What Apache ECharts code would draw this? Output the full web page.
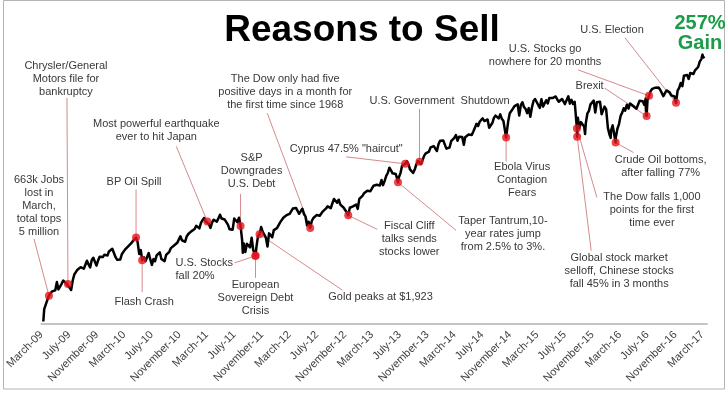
<!DOCTYPE html>
<html>
<head>
<meta charset="utf-8">
<script src="https://cdn.jsdelivr.net/npm/echarts@6/dist/echarts.min.js"></script>
<style>
  html, body { margin: 0; padding: 0; background: #fff; }
  #c { width: 728px; height: 393px; }
</style>
</head>
<body>
<div id="c"></div>
<script>
// ---------------- DATA ----------------
// Weekly-ish index closes (S&P 500 scale), by year: [MM-DD, value]
const y2009 = [['03-09',676],['03-13',756],['03-20',768],['03-27',816],['04-03',842],['04-09',857],['04-17',870],['04-24',866],['05-01',877],['05-08',930],['05-15',883],['05-22',887],['05-29',919],['06-05',940],['06-12',946],['06-19',921],['06-26',918],['07-02',896],['07-10',879],['07-17',940],['07-24',979],['07-31',987],['08-07',1010],['08-14',1004],['08-21',1026],['08-28',1029],['09-04',1016],['09-11',1042],['09-18',1068],['09-25',1044],['10-02',1025],['10-09',1071],['10-16',1087],['10-23',1079],['10-30',1036],['11-06',1069],['11-13',1093],['11-20',1091],['11-27',1091],['12-04',1106],['12-11',1106],['12-18',1102],['12-24',1127],['12-31',1115]];
const y2010 = [['01-08',1145],['01-15',1136],['01-22',1092],['01-29',1074],['02-05',1066],['02-12',1075],['02-19',1109],['02-26',1104],['03-05',1139],['03-12',1150],['03-19',1160],['03-26',1167],['04-01',1179],['04-09',1194],['04-16',1192],['04-23',1217],['04-30',1187],['05-07',1111],['05-14',1136],['05-20',1071],['05-28',1089],['06-04',1065],['06-11',1092],['06-18',1117],['06-25',1076],['07-02',1040],['07-09',1078],['07-16',1065],['07-23',1102],['07-30',1102],['08-06',1122],['08-13',1079],['08-20',1071],['08-27',1065],['09-03',1105],['09-10',1110],['09-17',1125],['09-24',1149],['10-01',1147],['10-08',1166],['10-15',1176],['10-22',1183],['10-29',1183],['11-05',1225],['11-12',1199],['11-19',1199],['11-26',1190],['12-03',1224],['12-10',1240],['12-17',1244],['12-23',1257],['12-31',1258]];
const y2011 = [['01-07',1272],['01-14',1293],['01-21',1283],['01-28',1276],['02-04',1311],['02-11',1329],['02-18',1343],['02-25',1320],['03-04',1321],['03-11',1304],['03-18',1279],['03-25',1313],['04-01',1332],['04-08',1329],['04-15',1320],['04-21',1337],['04-29',1364],['05-06',1340],['05-13',1338],['05-20',1333],['05-27',1331],['06-03',1300],['06-10',1271],['06-17',1271],['06-24',1268],['07-01',1340],['07-08',1344],['07-15',1316],['07-22',1345],['07-29',1292],['08-05',1199],['08-08',1119],['08-12',1179],['08-19',1124],['08-26',1177],['09-02',1174],['09-09',1154],['09-16',1216],['09-23',1136],['09-30',1131],['10-03',1099],['10-07',1155],['10-14',1225],['10-21',1238],['10-28',1285],['11-04',1253],['11-11',1264],['11-18',1216],['11-25',1159],['12-02',1244],['12-09',1255],['12-16',1219],['12-23',1265],['12-30',1258]];
const y2012 = [['01-06',1278],['01-13',1289],['01-20',1315],['01-27',1316],['02-03',1345],['02-10',1343],['02-17',1361],['02-24',1366],['03-02',1370],['03-09',1371],['03-16',1404],['03-23',1397],['03-30',1408],['04-05',1398],['04-13',1370],['04-20',1378],['04-27',1403],['05-04',1369],['05-11',1353],['05-18',1295],['05-25',1318],['06-01',1278],['06-08',1325],['06-15',1343],['06-22',1335],['06-29',1362],['07-06',1355],['07-13',1357],['07-20',1363],['07-27',1386],['08-03',1391],['08-10',1405],['08-17',1418],['08-24',1411],['08-31',1407],['09-07',1438],['09-14',1466],['09-21',1460],['09-28',1441],['10-05',1461],['10-12',1429],['10-19',1433],['10-26',1411],['11-02',1414],['11-09',1380],['11-16',1360],['11-23',1409],['11-30',1416],['12-07',1418],['12-14',1413],['12-21',1430],['12-28',1402]];
const y2013 = [['01-04',1466],['01-11',1472],['01-18',1486],['01-25',1503],['02-01',1513],['02-08',1518],['02-15',1520],['02-22',1516],['03-01',1518],['03-08',1551],['03-15',1561],['03-22',1557],['03-28',1569],['04-05',1553],['04-12',1588],['04-19',1555],['04-26',1582],['05-03',1614],['05-10',1633],['05-17',1667],['05-24',1650],['05-31',1631],['06-07',1643],['06-14',1626],['06-21',1593],['06-24',1573],['06-28',1606],['07-05',1632],['07-12',1680],['07-19',1692],['07-26',1692],['08-02',1710],['08-09',1691],['08-16',1656],['08-23',1664],['08-30',1633],['09-06',1655],['09-13',1688],['09-20',1710],['09-27',1705],['10-04',1691],['10-11',1703],['10-18',1745],['10-25',1760],['11-01',1762],['11-08',1771],['11-15',1798],['11-22',1805],['11-29',1806],['12-06',1805],['12-13',1775],['12-20',1818],['12-27',1841]];
const y2014 = [['01-03',1831],['01-10',1842],['01-17',1839],['01-24',1790],['01-31',1783],['02-07',1797],['02-14',1838],['02-21',1836],['02-28',1859],['03-07',1878],['03-14',1841],['03-21',1866],['03-28',1857],['04-04',1865],['04-11',1815],['04-17',1864],['04-25',1863],['05-02',1881],['05-09',1878],['05-16',1878],['05-23',1900],['05-30',1924],['06-06',1950],['06-13',1936],['06-20',1963],['06-27',1961],['07-03',1985],['07-11',1968],['07-18',1978],['07-25',1978],['08-01',1925],['08-08',1931],['08-15',1955],['08-22',1988],['08-29',2003],['09-05',2008],['09-12',1985],['09-19',2011],['09-26',1982],['10-03',1968],['10-10',1906],['10-15',1862],['10-17',1887],['10-24',1964],['10-31',2018],['11-07',2032],['11-14',2039],['11-21',2064],['11-28',2068],['12-05',2075],['12-12',2003],['12-19',2071],['12-26',2089]];
const y2015 = [['01-02',2058],['01-09',2045],['01-16',2019],['01-23',2051],['01-30',1995],['02-06',2055],['02-13',2097],['02-20',2110],['02-27',2104],['03-06',2071],['03-13',2053],['03-20',2108],['03-27',2061],['04-02',2067],['04-10',2102],['04-17',2081],['04-24',2117],['05-01',2108],['05-08',2116],['05-15',2123],['05-22',2126],['05-29',2107],['06-05',2092],['06-12',2094],['06-19',2110],['06-26',2102],['07-02',2077],['07-10',2077],['07-17',2127],['07-24',2080],['07-31',2104],['08-07',2078],['08-14',2092],['08-21',1971],['08-24',1920],['08-25',1867],['08-28',1989],['09-04',1921],['09-11',1961],['09-18',1958],['09-25',1932],['09-29',1884],['10-02',1951],['10-09',2015],['10-16',2033],['10-23',2075],['10-30',2079],['11-06',2099],['11-13',2023],['11-20',2089],['11-27',2090],['12-04',2092],['12-11',2012],['12-18',2006],['12-24',2061],['12-31',2044]];
const y2016 = [['01-08',1922],['01-15',1880],['01-20',1859],['01-22',1907],['01-29',1940],['02-05',1880],['02-11',1829],['02-12',1865],['02-19',1918],['02-26',1948],['03-04',2000],['03-11',2022],['03-18',2050],['03-24',2035],['04-01',2073],['04-08',2048],['04-15',2081],['04-22',2092],['04-29',2065],['05-06',2057],['05-13',2047],['05-20',2053],['05-27',2099],['06-03',2099],['06-10',2096],['06-17',2071],['06-23',2113],['06-24',2037],['06-27',2000],['07-01',2103],['07-08',2130],['07-15',2162],['07-22',2175],['07-29',2174],['08-05',2183],['08-12',2184],['08-19',2184],['08-26',2169],['09-02',2180],['09-09',2128],['09-16',2139],['09-23',2165],['09-30',2168],['10-07',2153],['10-14',2133],['10-21',2141],['10-28',2126],['11-04',2085],['11-11',2164],['11-18',2182],['11-25',2213],['12-02',2192],['12-09',2260],['12-16',2258],['12-23',2264],['12-30',2239]];
const y2017 = [['01-06',2277],['01-13',2275],['01-20',2271],['01-27',2295],['02-03',2297],['02-10',2316],['02-17',2351],['02-24',2367],['03-01',2396],['03-03',2383],['03-10',2373]];

// Tick labels
const tickDates = ['2009-03-01','2009-07-01','2009-11-01','2010-03-01','2010-07-01','2010-11-01','2011-03-01','2011-07-01','2011-11-01','2012-03-01','2012-07-01','2012-11-01','2013-03-01','2013-07-01','2013-11-01','2014-03-01','2014-07-01','2014-11-01','2015-03-01','2015-07-01','2015-11-01','2016-03-01','2016-07-01','2016-11-01','2017-03-01'];
const tickLabels = ['March-09','July-09','November-09','March-10','July-10','November-10','March-11','July-11','November-11','March-12','July-12','November-12','March-13','July-13','November-13','March-14','July-14','November-14','March-15','July-15','November-15','March-16','July-16','November-16','March-17'];

// Annotated events (dot sits on the line at that date)
const eventDates = ['2009-04-03','2009-06-26','2010-04-23','2010-05-20','2011-03-04','2011-07-29','2011-10-03','2011-10-03','2011-10-21','2012-06-01','2012-11-16','2013-06-24','2013-07-26','2013-09-27','2014-10-15','2015-08-24','2015-08-25','2016-02-11','2016-06-27','2016-07-08','2016-11-04'];
const eventTexts = [
  ['663k Jobs','lost in','March,','total tops','5 million'],
  ['Chrysler/General','Motors file for','bankruptcy'],
  ['BP Oil Spill'],
  ['Flash Crash'],
  ['Most powerful earthquake','ever to hit Japan'],
  ['S&P','Downgrades','U.S. Debt'],
  ['U.S. Stocks','fall 20%'],
  ['European','Sovereign Debt','Crisis'],
  ['Gold peaks at $1,923'],
  ['The Dow only had five','positive days in a month for','the first time since 1968'],
  ['Fiscal Cliff','talks sends','stocks lower'],
  ['Taper Tantrum,10-','year rates jump','from 2.5% to 3%.'],
  ['Cyprus 47.5% "haircut"'],
  ['U.S. Government  Shutdown'],
  ['Ebola Virus','Contagion','Fears'],
  ['The Dow falls 1,000','points for the first','time ever'],
  ['Global stock market','selloff, Chinese stocks','fall 45% in 3 months'],
  ['Crude Oil bottoms,','after falling 77%'],
  ['Brexit'],
  ['U.S. Stocks go','nowhere for 20 months'],
  ['U.S. Election']
];

// ---------------- LAYOUT (pixel offsets from each dot) ----------------
const annLayout = [
  {tx:-10, ty:-116, lx:-15, ly:-57},
  {tx:-2,  ty:-218, lx:-1,  ly:-186},
  {tx:-2,  ty:-56,  lx:0,   ly:-48},
  {tx:2,   ty:42,   lx:0,   ly:32},
  {tx:-51, ty:-97,  lx:-31, ly:-75},
  {tx:11,  ty:-68,  lx:0,   ly:-32},
  {tx:-80, ty:7,    lx:-21, ly:7, align:'left'},
  {tx:0,   ty:29,   lx:0,   ly:22},
  {tx:121, ty:63,   lx:83,  ly:56},
  {tx:-25, ty:-149, lx:-43, ly:-115},
  {tx:61,  ty:11,   lx:29,  ly:14},
  {tx:105, ty:39,   lx:58,  ly:48},
  {tx:-59, ty:-15,  lx:-59, ly:-7},
  {tx:20,  ty:-61,  lx:0,   ly:-53},
  {tx:16,  ty:30,   lx:0,   ly:24},
  {tx:75,  ty:69,   lx:20,  ly:69},
  {tx:42,  ty:121,  lx:14,  ly:114},
  {tx:45,  ty:17,   lx:18,  ly:10},
  {tx:-57, ty:-30,  lx:-42, ly:-28},
  {tx:-104,ty:-47,  lx:-71, ly:-26},
  {tx:-64, ty:-73,  lx:-51, ly:-65}
];

const FONT = '"Liberation Sans", Arial, sans-serif';

function ts(s) {
  const p = s.split('-').map(Number);
  return new Date(p[0], p[1] - 1, p[2]).getTime();
}

const years = [[2009,y2009],[2010,y2010],[2011,y2011],[2012,y2012],[2013,y2013],[2014,y2014],[2015,y2015],[2016,y2016],[2017,y2017]];
const lineData = [];
const valueByDate = {};
years.forEach(([yr, arr]) => {
  arr.forEach(([md, v]) => {
    const d = yr + '-' + md;
    valueByDate[d] = v;
    lineData.push([ts(d), v]);
  });
});
const dotData = eventDates.map(d => [ts(d), valueByDate[d]]);

const labelByTs = {};
tickDates.forEach((d, i) => { labelByTs[ts(d)] = tickLabels[i]; });
const tickTs = tickDates.map(ts);

const chart = echarts.init(document.getElementById('c'), null, {renderer: 'canvas'});
chart.setOption({
  animation: false,
  backgroundColor: '#fff',
  grid: {left: 41.5, right: 21, top: 40, bottom: 69, containLabel: false, outerBoundsMode: 'none'},
  xAxis: {
    type: 'value',
    min: ts('2009-03-01'),
    max: ts('2017-03-21'),
    scale: true,
    axisLine: {show: true, lineStyle: {color: '#c4c4c4', width: 2}},
    axisTick: {show: false},
    splitLine: {show: false},
    axisLabel: {
      customValues: tickTs,
      rotate: 45,
      margin: 9,
      color: '#404040',
      fontSize: 11,
      fontFamily: FONT,
      hideOverlap: false,
      formatter: function (v) { return labelByTs[v] !== undefined ? labelByTs[v] : ''; }
    }
  },
  yAxis: {
    type: 'value', min: 660, max: 2490, show: false, splitLine: {show: false}
  },
  series: [
    {
      type: 'line', data: lineData, showSymbol: false, symbol: 'none',
      lineStyle: {color: '#000', width: 2.5, join: 'round'}, z: 2, silent: true
    },
    {
      type: 'scatter', data: dotData, symbolSize: 8,
      itemStyle: {color: '#e8141b'}, z: 5, silent: true
    }
  ]
});

const gfx = [];
gfx.push({type: 'rect', shape: {x: 3.5, y: 0.5, width: 721, height: 388.5},
  style: {fill: 'none', stroke: '#b4b4b4', lineWidth: 1}, silent: true, z: 0});
gfx.push({type: 'text', x: 362, y: 31, z: 100,
  style: {text: 'Reasons to Sell', font: 'bold 37px ' + FONT, fill: '#000', textAlign: 'center', textVerticalAlign: 'middle'}});
gfx.push({type: 'text', x: 700, y: 23, z: 100,
  style: {text: '257%', font: 'bold 20px ' + FONT, fill: '#1a9c48', textAlign: 'center', textVerticalAlign: 'middle'}});
gfx.push({type: 'text', x: 700, y: 43, z: 100,
  style: {text: 'Gain', font: 'bold 20px ' + FONT, fill: '#1a9c48', textAlign: 'center', textVerticalAlign: 'middle'}});

eventDates.forEach((d, i) => {
  const p = chart.convertToPixel({seriesIndex: 1}, dotData[i]);
  const L = annLayout[i];
  gfx.push({type: 'line', z: 1, silent: true,
    shape: {x1: p[0], y1: p[1], x2: p[0] + L.lx, y2: p[1] + L.ly},
    style: {stroke: '#d68a8c', lineWidth: 1}});
  eventTexts[i].forEach((t, k) => {
    gfx.push({type: 'text', z: 100, silent: true,
      x: p[0] + L.tx, y: p[1] + L.ty + k * 13,
      style: {text: t, font: '11px ' + FONT, fill: '#383838',
        textAlign: L.align || 'center', textVerticalAlign: 'middle'}});
  });
});

chart.setOption({graphic: {elements: gfx}});
</script>
</body>
</html>
